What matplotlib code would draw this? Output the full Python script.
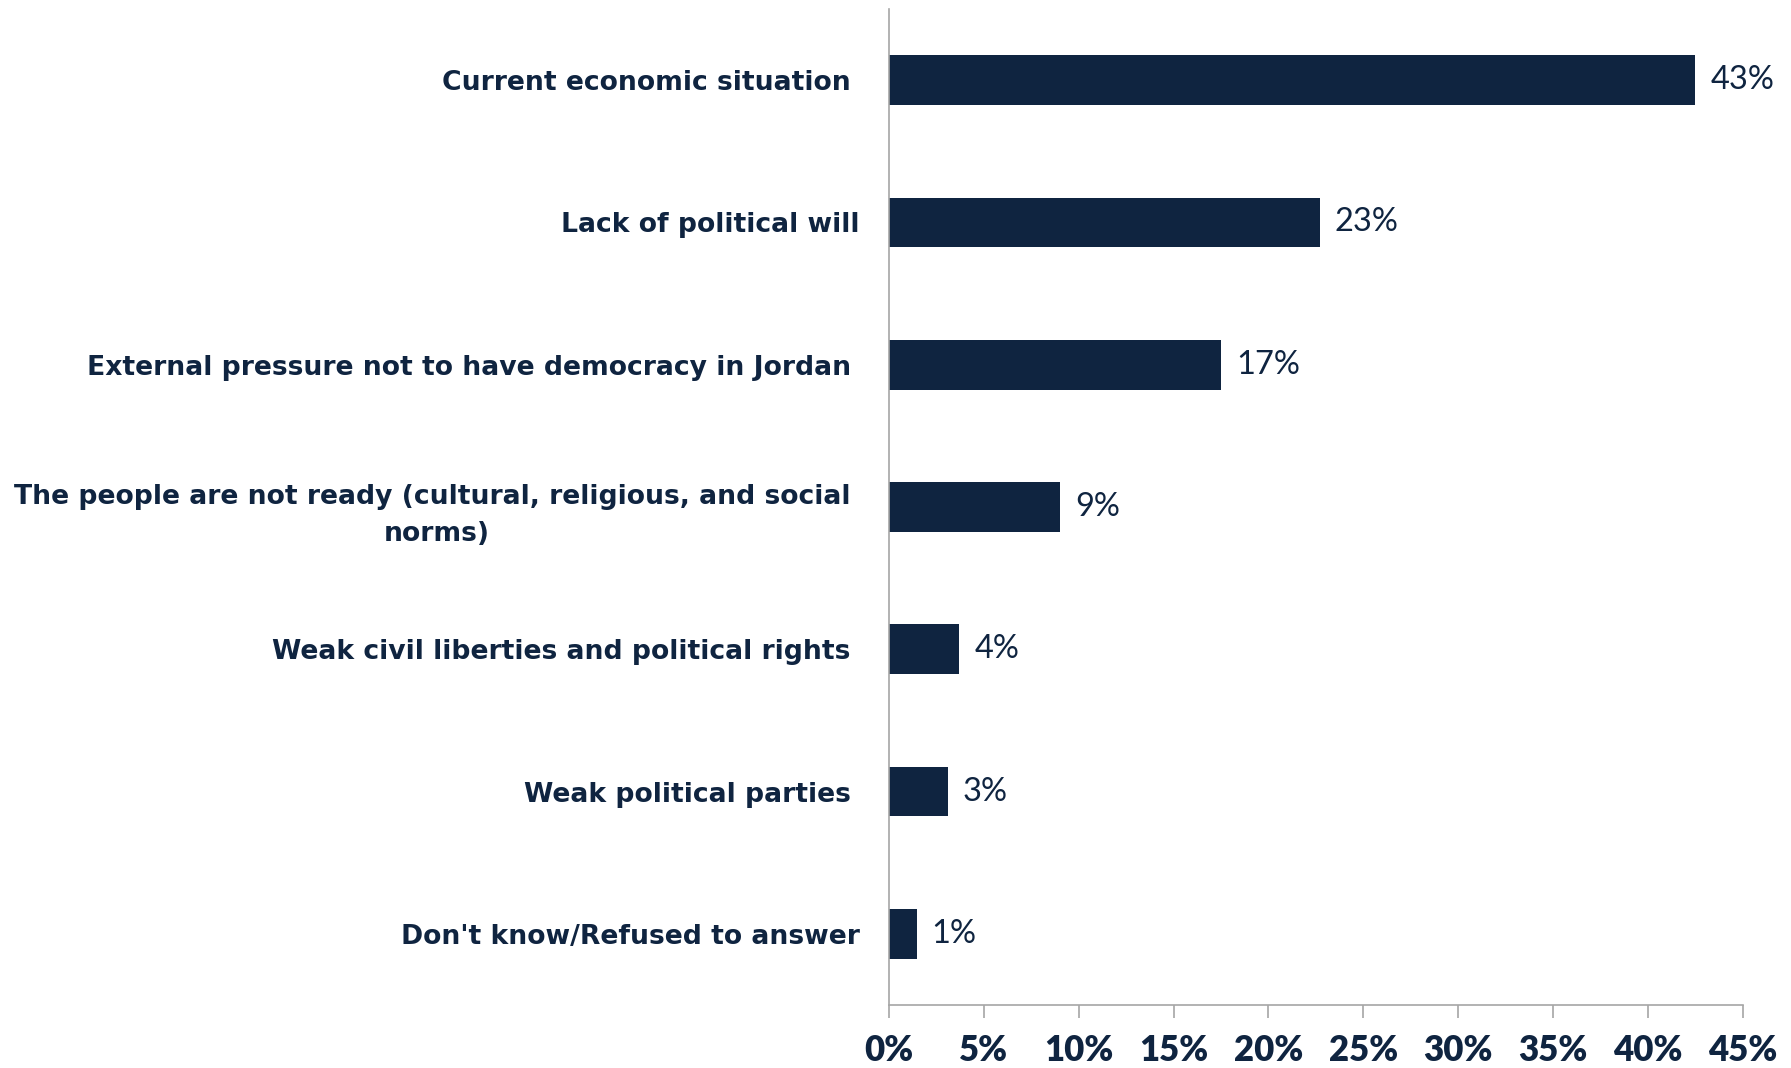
import matplotlib.pyplot as plt
from matplotlib.ticker import FuncFormatter

# data (top to bottom)
categories = [
    "Current economic situation ",
    "Lack of political will",
    "External pressure not to have democracy in Jordan ",
    "The people are not ready (cultural, religious, and social \nnorms)",
    "Weak civil liberties and political rights ",
    "Weak political parties ",
    "Don't know/Refused to answer",
]
values = [42.5, 22.7, 17.5, 9.0, 3.7, 3.1, 1.45]
value_labels = ["43%", "23%", "17%", "9%", "4%", "3%", "1%"]
xticks = [0, 5, 10, 15, 20, 25, 30, 35, 40, 45]

navy = "#0f2440"
grey = "#a6a6a6"

fig = plt.figure(figsize=(17.91, 10.68), dpi=100)
ax = fig.add_axes([0.4964, 0.059, 0.973 - 0.4964, 0.9916 - 0.059])

ypos = list(range(len(categories)))[::-1]
ax.barh(ypos, values, height=0.35, color=navy)

for y, v, lab in zip(ypos, values, value_labels):
    ax.text(v + 0.8, y, lab, va="center", ha="left", fontsize=23.5,
            color=navy, family=["Lato", "DejaVu Sans"])

ax.set_xlim(0, 45)
ax.set_ylim(-0.5, len(categories) - 0.5)
ax.set_xticks(xticks)
ax.xaxis.set_major_formatter(FuncFormatter(lambda x, p: f"{int(x)}%"))
for t in ax.get_xticklabels():
    t.set_family(["Lato", "DejaVu Sans"])
    t.set_fontweight("heavy")
    t.set_fontsize(25)
    t.set_color(navy)

ax.set_yticks(ypos)
ax.set_yticklabels(categories, fontsize=19.2, fontweight="bold", color=navy)
for t in ax.get_yticklabels():
    t.set_multialignment("center")
    t.set_linespacing(1.55)

ax.tick_params(axis="y", length=0, pad=21)
ax.tick_params(axis="x", length=9, width=1.2, color=grey, direction="out", pad=12)

for s in ["top", "right"]:
    ax.spines[s].set_visible(False)
ax.spines["left"].set_color(grey)
ax.spines["bottom"].set_color(grey)
ax.spines["left"].set_linewidth(1.2)
ax.spines["bottom"].set_linewidth(1.2)

fig.savefig("out.png", dpi=100)
